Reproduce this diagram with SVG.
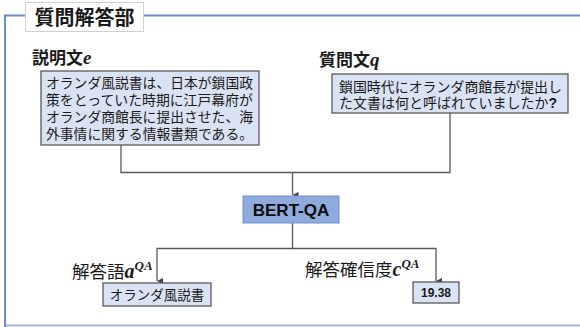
<svg xmlns="http://www.w3.org/2000/svg" width="580" height="327" viewBox="0 0 580 327">
<defs>
<marker id="arr" viewBox="0 0 6 6" refX="3" refY="6" markerWidth="6" markerHeight="6" markerUnits="userSpaceOnUse" orient="auto-start-reverse">
<path d="M0,0 L6,0 L3,6 Z" fill="#404040"/>
</marker>
</defs>
<style>
.jp{font-family:"Liberation Sans","Noto Sans CJK JP",sans-serif;fill:#1a1a1a}
.lbl{font-size:17px;font-weight:bold}
.lbl2{font-size:17.5px}
.box{fill:#dae3f3;stroke:#595959;stroke-width:1.3}
.txt{font-size:14px}
.m{font-family:"Liberation Serif","DejaVu Serif",serif;font-style:italic;font-weight:bold;fill:#1a1a1a}
.con{fill:none;stroke:#595959;stroke-width:1.3}
</style>
<g id="frame">
<line x1="5" y1="325.5" x2="580" y2="325.5" stroke="#aab6cf" stroke-width="2"/>
<line x1="5" y1="15.5" x2="580" y2="15.5" stroke="#6e8cc6" stroke-width="2"/>
<line x1="5" y1="14.5" x2="5" y2="327" stroke="#6e8cc6" stroke-width="2"/>
</g>
<g id="title">
<rect x="25.5" y="2.5" width="118" height="29" fill="#ffffff" stroke="#d0d0d0" stroke-width="1"/>
<text x="84.5" y="24.5" text-anchor="middle" class="jp" style="font-size:20px;font-weight:bold">質問解答部</text>
</g>
<g id="connectors">
<polyline class="con" points="121,145 121,172.5 450,172.5 450,113"/>
<line class="con" x1="292.5" y1="172.5" x2="292.5" y2="195" marker-end="url(#arr)"/>
<polyline class="con" points="292.5,223 292.5,248.5 157,248.5 157,281" marker-end="url(#arr)"/>
<polyline class="con" points="292.5,248.5 436,248.5 436,281" marker-end="url(#arr)"/>
</g>
<g id="label-e">
<text x="32" y="64" class="jp lbl">説明文<tspan class="m" style="font-size:19px">e</tspan></text>
</g>
<g id="node-e">
<rect class="box" x="41" y="71" width="218" height="74"/>
<text class="jp txt" x="46" y="88" textLength="207" lengthAdjust="spacingAndGlyphs">オランダ風説書は、日本が鎖国政</text>
<text class="jp txt" x="46" y="105" textLength="207" lengthAdjust="spacingAndGlyphs">策をとっていた時期に江戸幕府が</text>
<text class="jp txt" x="46" y="122" textLength="207" lengthAdjust="spacingAndGlyphs">オランダ商館長に提出させた、海</text>
<text class="jp txt" x="46" y="139" textLength="207" lengthAdjust="spacingAndGlyphs">外事情に関する情報書類である。</text>
</g>
<g id="label-q">
<text x="319" y="66" class="jp lbl">質問文<tspan class="m" style="font-size:19px">q</tspan></text>
</g>
<g id="node-q">
<rect class="box" x="332" y="74" width="236" height="39"/>
<text class="jp txt" x="339" y="92" textLength="223" lengthAdjust="spacingAndGlyphs">鎖国時代にオランダ商館長が提出し</text>
<text class="jp txt" x="339" y="108">た文書は何と呼ばれていましたか<tspan style="font-weight:bold">?</tspan></text>
</g>
<g id="node-bert">
<rect x="243" y="196" width="96" height="27" fill="#8faadc" stroke="#6f8fd0" stroke-width="1"/>
<text x="291" y="216" text-anchor="middle" style="font-family:'Liberation Sans',Arial,sans-serif;font-size:17px;font-weight:bold;fill:#0d0d0d">BERT-QA</text>
</g>
<g id="label-a">
<text x="72" y="278" class="jp lbl2">解答語<tspan class="m" style="font-size:20px">a</tspan><tspan class="m" style="font-size:13px" dy="-8">QA</tspan></text>
</g>
<g id="node-a">
<rect class="box" x="103" y="283" width="108" height="23"/>
<text class="jp" x="157" y="299.5" text-anchor="middle" style="font-size:13.5px">オランダ風説書</text>
</g>
<g id="label-c">
<text x="305" y="276" class="jp lbl2">解答確信度<tspan class="m" style="font-size:20px">c</tspan><tspan class="m" style="font-size:13px" dy="-8">QA</tspan></text>
</g>
<g id="node-c">
<rect class="box" x="413" y="282" width="46" height="21"/>
<text x="436" y="297" text-anchor="middle" style="font-family:'Liberation Sans',Arial,sans-serif;font-size:12px;font-weight:bold;fill:#1a1a1a">19.38</text>
</g>
</svg>
